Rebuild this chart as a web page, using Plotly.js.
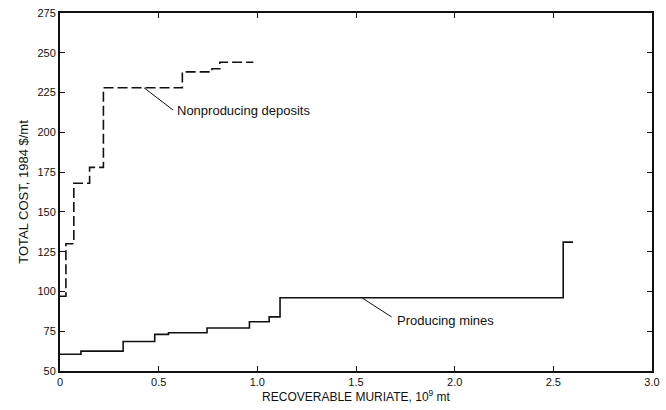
<!DOCTYPE html>
<html><head><meta charset="utf-8">
<script src="https://cdn.plot.ly/plotly-3.0.1.min.js"></script>
<style>body{margin:0;background:#fff}#c{width:666px;height:410px}</style>
</head><body><div id="c"></div>
<script>
// Nonproducing deposits (step curve, dashed)
const nonprodX = [0, 0.03, 0.07, 0.15, 0.22, 0.62, 0.77, 0.81, 0.98];
const nonprodY = [97, 130, 168, 178, 228, 238, 240, 244, 244];
// Producing mines (step curve, solid)
const prodX = [0, 0.106, 0.32, 0.48, 0.55, 0.745, 0.96, 1.06, 1.115, 2.55, 2.60];
const prodY = [60.5, 62.5, 68.5, 73, 74, 77, 81, 84, 96, 131, 131];
const xTicks = [0, 0.5, 1.0, 1.5, 2.0, 2.5, 3.0];
const xTickText = ["0", "0.5", "1.0", "1.5", "2.0", "2.5", "3.0"];
const yTicks = [50, 75, 100, 125, 150, 175, 200, 225, 250, 275];
const labels = ["Nonproducing deposits", "Producing mines"];

const font = {family: "Liberation Sans, Arial, sans-serif", color: "#111", size: 12};

const traces = [
  {x: nonprodX, y: nonprodY, type: "scatter", mode: "lines", line: {shape: "hv", color: "#111", width: 1.6, dash: "10px,4px"}, name: labels[0], hoverinfo: "skip"},
  {x: prodX, y: prodY, type: "scatter", mode: "lines", line: {shape: "hv", color: "#111", width: 1.6}, name: labels[1], hoverinfo: "skip"}
];

const layout = {
  width: 666, height: 410,
  margin: {l: 60, r: 14, t: 13, b: 39},
  paper_bgcolor: "#fff", plot_bgcolor: "#fff",
  showlegend: false,
  font: font,
  xaxis: {
    range: [0, 3], tickvals: xTicks, ticktext: xTickText,
    ticks: "inside", ticklen: 5, tickwidth: 1, tickcolor: "#111",
    showgrid: false, zeroline: false, showline: true, linecolor: "#111", linewidth: 2, mirror: "ticks",
    tickfont: {size: 11},
    title: {text: "RECOVERABLE MURIATE, 10<sup>9</sup> mt", font: {size: 12}, standoff: 4}
  },
  yaxis: {
    range: [50, 275], tickvals: yTicks,
    ticks: "inside", ticklen: 5, tickwidth: 1, tickcolor: "#111",
    showgrid: false, zeroline: false, showline: true, linecolor: "#111", linewidth: 2, mirror: "ticks",
    tickfont: {size: 11},
    title: {text: "TOTAL COST, 1984 $/mt", font: {size: 13}, standoff: 6}
  },
  shapes: [
    {type: "line", xref: "x", yref: "y", x0: 0.426, y0: 228, x1: 0.573, y1: 214, line: {color: "#111", width: 1}},
    {type: "line", xref: "x", yref: "y", x0: 1.53, y0: 96, x1: 1.68, y1: 84, line: {color: "#111", width: 1}}
  ],
  annotations: [
    {x: 0.583, y: 214, xref: "x", yref: "y", text: labels[0], showarrow: false, xanchor: "left", yanchor: "middle", font: {size: 13}},
    {x: 1.70, y: 81.5, xref: "x", yref: "y", text: labels[1], showarrow: false, xanchor: "left", yanchor: "middle", font: {size: 13}}
  ]
};

Plotly.newPlot("c", traces, layout, {staticPlot: true, displayModeBar: false});
</script>
</body></html>
